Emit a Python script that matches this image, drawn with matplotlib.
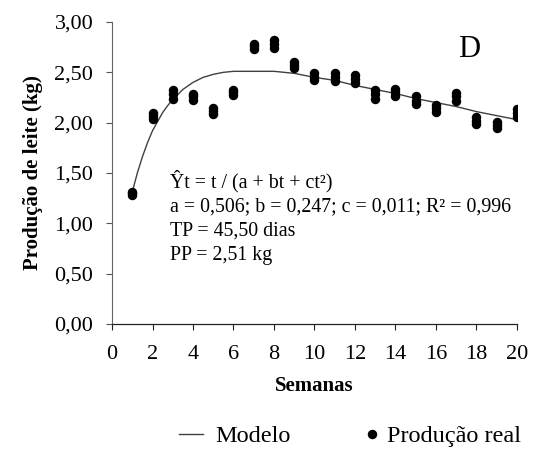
import matplotlib
matplotlib.use("Agg")
from matplotlib import pyplot as plt
import numpy as np

plt.rcParams['font.family'] = ['Liberation Serif', 'DejaVu Serif']

# semanas e producao observada (3 repeticoes por semana)
weeks = [1, 2, 3, 4, 5, 6, 7, 8, 9, 10, 11, 12, 13, 14, 15, 16, 17, 18, 19, 20]
prod_top = [1.31, 2.10, 2.32, 2.28, 2.15, 2.32, 2.78, 2.82, 2.60, 2.49, 2.49, 2.47, 2.32, 2.33, 2.26, 2.18, 2.29, 2.06, 2.01, 2.14]
prod_mid = [1.30, 2.07, 2.28, 2.26, 2.12, 2.30, 2.76, 2.78, 2.57, 2.45, 2.45, 2.43, 2.28, 2.30, 2.22, 2.15, 2.26, 2.02, 1.98, 2.10]
prod_low = [1.28, 2.04, 2.24, 2.23, 2.09, 2.27, 2.73, 2.74, 2.54, 2.42, 2.41, 2.39, 2.24, 2.26, 2.19, 2.11, 2.22, 1.99, 1.95, 2.06]

# curva do modelo
model_t = [1, 1.25, 1.5, 1.75, 2, 2.25, 2.5, 2.75, 3, 3.5, 4, 4.5, 5, 5.5, 6,
           7, 8, 9, 10, 11, 12, 13, 14, 15, 16, 17, 18, 19, 20]
model_y = [1.31, 1.50, 1.66, 1.80, 1.92, 2.01, 2.10, 2.17, 2.23, 2.33, 2.40, 2.45, 2.48, 2.50, 2.51,
           2.51, 2.51, 2.49, 2.45, 2.42, 2.37, 2.33, 2.29, 2.24, 2.20, 2.16, 2.11, 2.07, 2.03]

yticks = [0, 0.5, 1.0, 1.5, 2.0, 2.5, 3.0]
ytick_labels = ['0,00', '0,50', '1,00', '1,50', '2,00', '2,50', '3,00']
xticks = [0, 2, 4, 6, 8, 10, 12, 14, 16, 18, 20]

fig = plt.figure(figsize=(5.37, 4.49), dpi=100)
ax = fig.add_axes([0.2086, 0.2784, 0.754, 0.6726])

line, = ax.plot(model_t, model_y, color='#404040', lw=1.0, label='Modelo')
pts = None
for vals in (prod_top, prod_mid, prod_low):
    pts, = ax.plot(weeks, vals, 'o', color='black', ms=5.8, ls='none', label='Produção real')

ax.set_xlim(0, 20)
ax.set_ylim(0, 3.0)
ax.set_xticks(xticks)
ax.set_xticklabels([str(x) for x in xticks])
ax.set_yticks(yticks)
ax.set_yticklabels(ytick_labels)
ax.tick_params(direction='out', length=4, width=0.8, colors='#555555', labelsize=16, labelcolor='black')
ax.tick_params(axis='x', pad=11, colors='#222222', labelcolor='black')
ax.tick_params(axis='y', pad=9.5)
for s in ['top', 'right']:
    ax.spines[s].set_visible(False)
ax.spines['left'].set_color('#666666')
ax.spines['bottom'].set_color('#222222')
ax.spines['left'].set_linewidth(0.8)
ax.spines['bottom'].set_linewidth(0.9)

ax.set_xlabel('Semanas', fontsize=15, fontweight='bold', labelpad=9)
ax.set_ylabel('Produção de leite (kg)', fontsize=15, fontweight='bold', labelpad=8)

ax.text(17.1, 2.65, 'D', fontsize=22, va='baseline')
eq = ['Ŷt = t / (a + bt + ct²)',
      'a = 0,506; b = 0,247; c = 0,011; R² = 0,996',
      'TP = 45,50 dias',
      'PP = 2,51 kg']
for i, s in enumerate(eq):
    ax.text(2.86, 1.36 - i * 0.243, s, fontsize=14.3, va='baseline')

leg1 = fig.legend([line], ['Modelo'], loc='center left', bbox_to_anchor=(0.3333, 0.028),
                  frameon=False, fontsize=17.5, borderpad=0, borderaxespad=0,
                  handlelength=0.99, handletextpad=0.49)
leg2 = fig.legend([pts], ['Produção real'], loc='center left', bbox_to_anchor=(0.679, 0.028),
                  frameon=False, fontsize=17.5, borderpad=0, borderaxespad=0,
                  handlelength=0.6, handletextpad=0.32, markerscale=1.0)

fig.savefig('out.png', dpi=100)
